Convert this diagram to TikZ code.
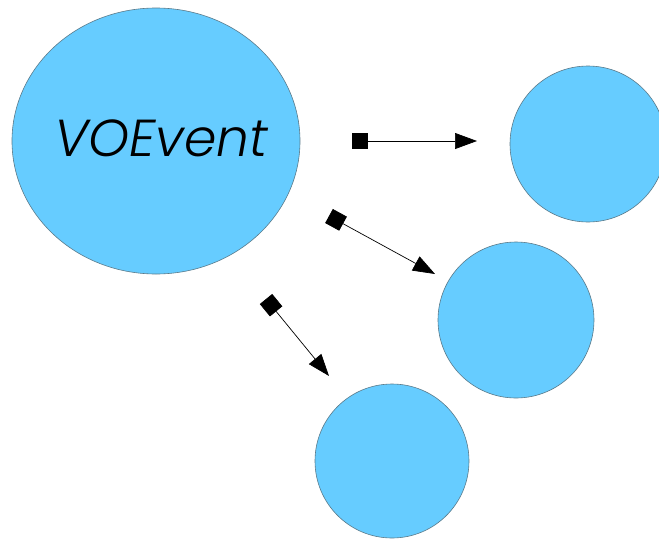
\documentclass[tikz,border=0pt]{standalone}
\usepackage{fontspec}
\setmainfont{Poppins}[UprightFont=* Light, ItalicFont=* Light Italic]
\usetikzlibrary{arrows.meta}
\definecolor{fillblue}{HTML}{66CCFF}
\definecolor{edge}{HTML}{5A7A8A}
\begin{document}
\begin{tikzpicture}[x=1pt,y=-1pt,
  bubble/.style={draw=edge,line width=0.6pt,fill=fillblue},
  link/.style={line width=0.7pt,{Square[length=16pt,width=16pt]}-{Triangle[length=22pt,width=16pt]}}]
\useasboundingbox (0,0) rectangle (659,539);
\begin{scope}
\clip (0,0) rectangle (659,539);
\draw[bubble] (156,141) ellipse [x radius=144,y radius=133];
\node (voe) at (161,138) {\fontsize{52}{60}\selectfont\itshape VOEvent};
\draw[bubble] (588,144) circle [radius=78];
\draw[bubble] (516,320) circle [radius=78];
\draw[bubble] (392,461) circle [radius=77];
\end{scope}
\coordinate (a1) at (352,141);
\coordinate (b1) at (477,141);
\coordinate (a2) at (329,216);
\coordinate (b2) at (435,274);
\coordinate (a3) at (266,299);
\coordinate (b3) at (329,376);
\draw[link] (a1) -- (b1);
\draw[link] (a2) -- (b2);
\draw[link] (a3) -- (b3);
\end{tikzpicture}
\end{document}
